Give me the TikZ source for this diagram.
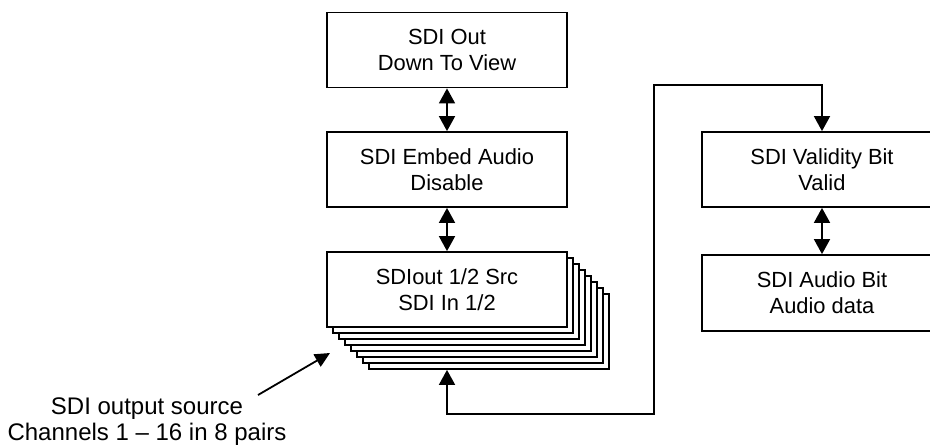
\documentclass[tikz,border=0pt]{standalone}
\usepackage{fontspec}
\setmainfont{Liberation Sans}
\usetikzlibrary{arrows.meta}
\tikzset{
  box/.style={draw, line width=1.8pt, fill=white, minimum width=240pt, minimum height=75pt, inner sep=0pt, align=center, font=\fontsize{21.9}{26}\selectfont},
  stackbox/.style={draw, line width=1.8pt, fill=white, minimum width=240pt, minimum height=75pt, inner sep=0pt},
  conn/.style={line width=1.8pt, {Triangle[length=15pt,width=16pt]}-{Triangle[length=15pt,width=16pt]}},
  pointer/.style={line width=1.8pt, -{Triangle[length=15pt,width=14pt]}},
  note/.style={align=center, inner sep=0pt, font=\fontsize{24}{26}\selectfont}
}
\begin{document}
\begin{tikzpicture}[x=1pt,y=-1pt]
\useasboundingbox (0,0) rectangle (930,447);
% stacked copies behind SDIout box
\foreach \k in {7,6,...,1}{
  \node[stackbox] (s\k) at ({447+6*\k},{289.5+6*\k}) {};
}
\node[box] (b1) at (447,50) {SDI Out\\Down To View};
\node[box] (b2) at (447,169.5) {SDI Embed Audio\\Disable};
\node[box] (b3) at (447,289.5) {SDIout 1/2 Src\\SDI In 1/2};
\node[box] (b4) at (822,169.5) {SDI Validity Bit\\Valid};
\node[box, minimum height=76pt] (b5) at (822,293) {SDI Audio Bit\\Audio data};
\node[note] (n1) at (147,422) {SDI output source\\Channels 1 -- 16 in 8 pairs};
\draw[conn] (b1.south) -- (b2.north);
\draw[conn] (b2.south) -- (b3.north);
\draw[conn] (b4.south) -- (b5.north);
\coordinate (loop) at (654,85);
\draw[conn] (b3.center |- s7.south) -- ++(0,44) -| (loop) -| (b4.north);
\coordinate (tail) at (258,395);
\coordinate (tip) at (330,353);
\draw[pointer] (tail) -- (tip);
\end{tikzpicture}
\end{document}
